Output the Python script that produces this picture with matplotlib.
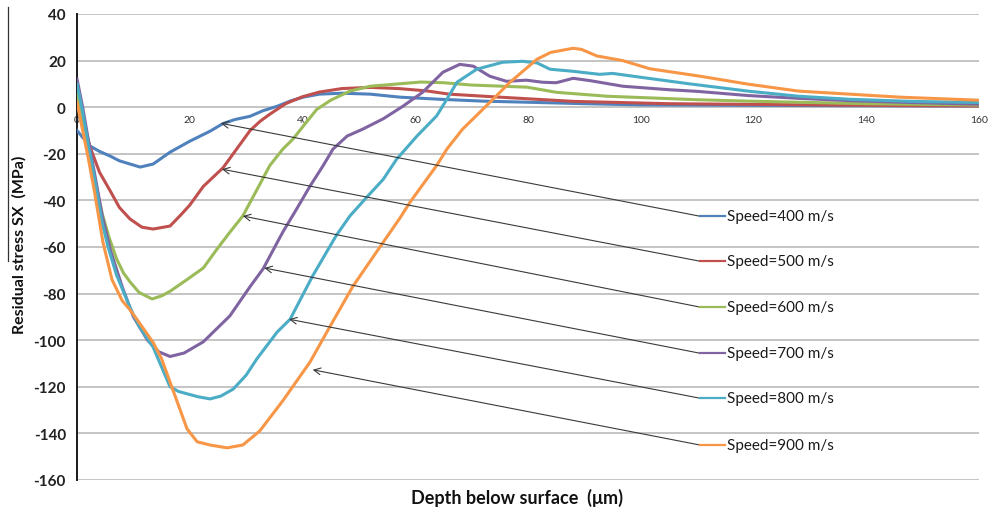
import matplotlib
matplotlib.use("Agg")
import matplotlib.pyplot as plt
from matplotlib.lines import Line2D

plt.rcParams['font.family'] = ['Lato', 'DejaVu Sans']

# ---- data ----
x400 = [0, 1, 2.3, 4, 5.9, 7.5, 9.4, 11.2, 13.5, 16.5, 20, 23.6, 25.9, 28, 30.7, 33, 35.5, 38, 40.1, 43, 47, 52, 57.3, 64.4, 72, 82, 90, 100, 120, 140, 160]
y400 = [-10, -13, -16.7, -19, -21, -23, -24.4, -25.7, -24.4, -19.3, -14.6, -10.3, -7, -5.3, -3.9, -1.5, 0.4, 2.8, 4.3, 5.6, 6, 5.6, 4.3, 3.4, 2.6, 2, 1.5, 1, 0.8, 0.6, 0.5]

x500 = [0, 1, 2.3, 4, 5.9, 7.5, 9.4, 11.5, 13.5, 16.5, 18.5, 20, 22.4, 25.9, 28, 30.7, 32.5, 34.2, 37, 40, 43, 47, 52, 57, 62, 66, 75, 88, 105, 120, 140, 160]
y500 = [8, -5, -17, -28, -36, -43, -48, -51.5, -52.3, -51, -46, -42, -34, -26, -19, -10, -6, -3, 1.5, 4.5, 6.5, 8, 8.5, 8, 7, 5.6, 4.3, 2.5, 1.5, 1.2, 0.8, 0.5]

x600 = [0, 1, 2, 3, 4.5, 5.7, 7, 8.2, 9.4, 11, 13.3, 15, 16.5, 19.5, 22.4, 24.8, 27, 29.4, 32, 34.2, 36.5, 38.3, 40.5, 42.5, 45, 48.4, 52, 56, 61, 65, 70, 79.8, 85, 94, 101.6, 110, 119, 140, 160]
y600 = [6, -6, -18, -30, -46, -56, -65, -71, -75, -79.5, -82.3, -81, -79, -74, -69, -61, -54, -46.7, -35, -25, -18, -13.7, -7, -1, 3, 6.9, 9, 9.8, 10.8, 10.5, 9.5, 8.6, 6.4, 4.7, 4, 3.2, 2.6, 1.5, 0.9]

x700 = [0, 1, 2, 3, 4.5, 6, 8, 10, 12.5, 14.5, 16.5, 19, 22.4, 27.1, 30.7, 33, 36.5, 39, 41.3, 43.6, 45.4, 47.9, 50.7, 54.3, 57.8, 61.3, 64.9, 67.9, 70.3, 73.2, 76.2, 79.7, 82.6, 85, 88, 91, 96.8, 105, 110, 119, 128, 137, 148, 160]
y700 = [12, 0, -14, -27, -47, -62, -77, -90, -100, -105, -107, -105.5, -100.7, -89.6, -77, -69.4, -53.6, -43.5, -34, -25.3, -18, -12.4, -9.4, -5, 0.4, 6.4, 15, 18.4, 17.6, 13.3, 11.1, 11.6, 10.7, 10.5, 12.4, 11.4, 9, 7.5, 6.8, 5, 3.8, 2.8, 2, 1.3]

x800 = [0, 1, 2, 3, 4.5, 5.5, 7, 9.4, 11, 13.5, 16.5, 18, 19.5, 21.5, 23.6, 25.5, 27.7, 30, 31.9, 35.5, 37.8, 41.8, 46, 48.4, 51.4, 54.3, 56.7, 60.3, 63.8, 65.6, 67.4, 70.9, 75.5, 79, 81.6, 83.9, 88, 92.7, 95, 99.8, 108.7, 119, 128, 137, 148, 160]
y800 = [10, -2, -16, -29, -50, -60, -72, -86, -94, -103, -120, -122, -123, -124.3, -125.2, -124, -121, -115, -108, -96.5, -91, -72.4, -55, -46.7, -38.6, -31, -22.3, -12.4, -3.7, 3.4, 10.7, 16.3, 19.3, 19.7, 19, 16.3, 15.4, 14.1, 14.5, 12.9, 10, 6.9, 4.7, 3.4, 2.5, 2]

x900 = [0, 1, 2, 3, 4.6, 6.2, 8, 9.4, 10.6, 13.5, 15, 16.5, 18, 19.5, 21.3, 23.6, 26.6, 29.4, 32.4, 36.5, 41.3, 44.9, 48.9, 54.3, 57.3, 59, 63.8, 65.6, 68.4, 73.2, 76.8, 81.6, 84, 88, 89.5, 92.2, 96.8, 101.6, 110.5, 119, 128, 137, 146, 160]
y900 = [2, -10, -22, -35, -58, -74, -83, -87, -91, -101, -108, -118, -128, -138, -143.6, -145, -146.2, -145, -139, -126, -109.5, -94, -77, -58, -47.5, -41, -25, -18, -9.4, 2, 10.7, 20.6, 23.5, 25.3, 24.8, 22, 20, 16.5, 13.3, 9.9, 6.9, 5.6, 4.3, 3]

labels = ["Speed=400 m/s", "Speed=500 m/s", "Speed=600 m/s",
          "Speed=700 m/s", "Speed=800 m/s", "Speed=900 m/s"]
colors = ["#4F81BD", "#C0504D", "#9BBB59", "#8064A2", "#4BACC6", "#F79646"]
# arrow tips on curves and label anchor positions (data units)
tip_x = [25.5, 25.7, 29.4, 33.2, 37.6, 41.8]
tip_y = [-6.9, -26.6, -46.7, -69, -91, -112.7]
lab_x = 110.5
lab_y = [-46.8, -66.1, -85.8, -105.6, -124.9, -145.0]

xticks = [0, 20, 40, 60, 80, 100, 120, 140, 160]
yticks = [40, 20, 0, -20, -40, -60, -80, -100, -120, -140, -160]

series = [(x400, y400), (x500, y500), (x600, y600),
          (x700, y700), (x800, y800), (x900, y900)]

fig = plt.figure(figsize=(9.89, 5.10), dpi=100)
ax = fig.add_axes([0.0779, 0.0569, 0.912, 0.9137])
ax.set_xlim(0, 160)
ax.set_ylim(-160, 40)

for yt in yticks:
    ax.axhline(yt, color="#BFBFBF", lw=1.3, zorder=0)

for (xs, ys), c in zip(series, colors):
    ax.plot(xs, ys, color=c, lw=2.2, solid_joinstyle='round', zorder=3)

for i in range(6):
    ax.annotate("", xy=(tip_x[i], tip_y[i]), xytext=(lab_x, lab_y[i]),
                arrowprops=dict(arrowstyle="->", color="#3A3A3A", lw=0.8,
                                shrinkA=0, shrinkB=0, mutation_scale=12),
                zorder=4)
    ax.plot([lab_x, lab_x + 4.4], [lab_y[i], lab_y[i]], color=colors[i], lw=1.6, zorder=4)
    ax.text(lab_x + 4.8, lab_y[i], labels[i], fontsize=11, va="center",
            ha="left", color="#1A1A1A", zorder=5)

for s in ["top", "right", "bottom"]:
    ax.spines[s].set_visible(False)
ax.spines["left"].set_color("#1A1A1A")
ax.spines["left"].set_linewidth(1.4)

ax.set_yticks(yticks)
ax.set_yticklabels([str(v) for v in yticks], fontsize=11, fontweight="bold", color="#222222")
ax.tick_params(axis="y", length=0, pad=8)

ax.set_xticks(xticks)
ax.tick_params(axis="x", length=0)
ax.set_xticklabels([])
for xt in xticks:
    ax.text(xt, -5.2, str(xt), fontsize=7.5, ha="center", va="center", color="#333333", zorder=2)

fig.text(0.523, 0.024, "Depth below surface  (\u03bcm)", fontsize=13, fontweight="bold",
         ha="center", va="center", color="#111111")
fig.text(0.02, 0.52, "Residual stress SX  (MPa)", fontsize=11.5, fontweight="bold",
         ha="center", va="center", rotation=90, color="#111111")

# thin vertical stroke at the far left of the original image
fig.add_artist(Line2D([8/989, 8/989], [1 - 8/510, 1 - 262/510], color="#333333", lw=0.9))

fig.savefig("out.png", dpi=100)
